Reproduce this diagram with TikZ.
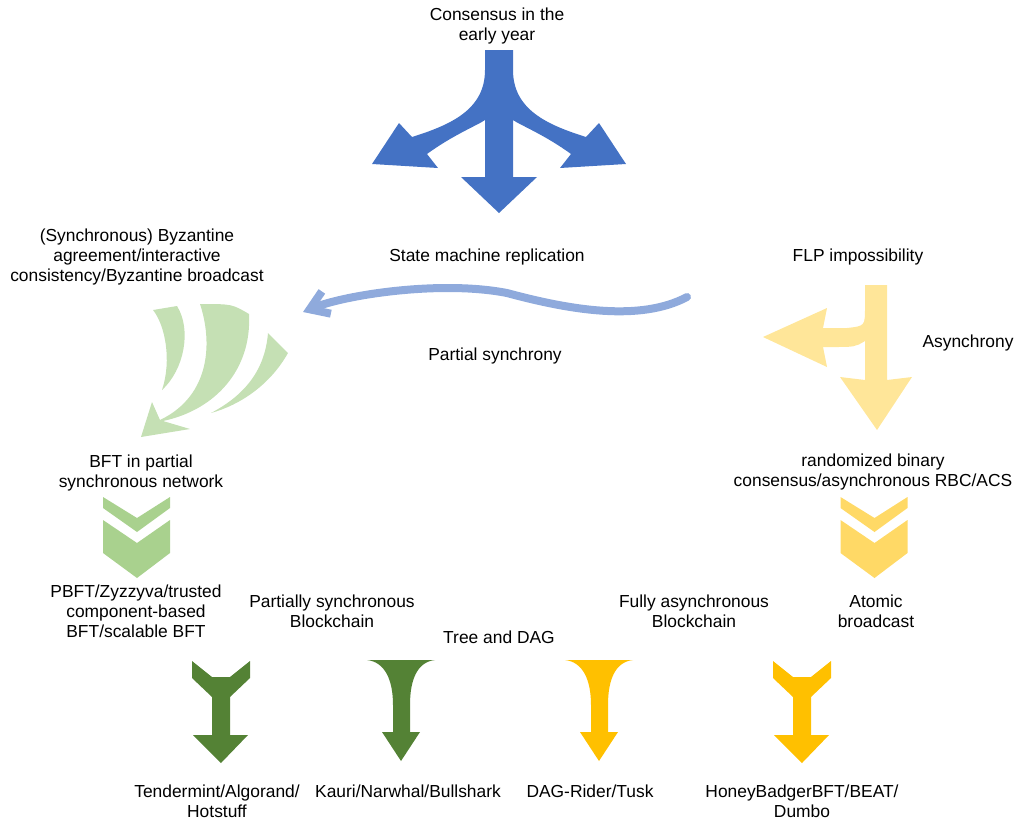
\documentclass[tikz,border=0pt]{standalone}
\usepackage{color}
\usepackage{tikz}
\usepackage{fontspec}
\setmainfont{Liberation Sans}
\usetikzlibrary{arrows.meta, positioning}

\definecolor{blueA}{HTML}{4472C4}
\definecolor{blueB}{HTML}{8FAADC}
\definecolor{greenA}{HTML}{C5E0B4}
\definecolor{greenB}{HTML}{A9D18E}
\definecolor{greenC}{HTML}{548235}
\definecolor{yellowA}{HTML}{FFE699}
\definecolor{yellowB}{HTML}{FFD966}
\definecolor{goldA}{HTML}{FFC000}

\begin{document}
\begin{tikzpicture}[x=1pt, y=-1pt, >=stealth]
	\tikzstyle{caption} = [align=center, inner sep=0pt, font=\fontsize{17.4}{20}\selectfont]

	\useasboundingbox (0,0) rectangle (1020,823);

	% texts
	\node[caption] (early) at (497,26) {Consensus in the\\early year};
	\node[caption] (smr) at (487,257) {State machine replication};
	\node[caption] (byz) at (137,257) {(Synchronous) Byzantine\\agreement/interactive\\consistency/Byzantine broadcast};
	\node[caption] (flp) at (858,257) {FLP impossibility};
	\node[caption] (psync) at (495,356) {Partial synchrony};
	\node[caption] (async) at (968,343) {Asynchrony};
	\node[caption] (bftpsn) at (141,473) {BFT in partial\\synchronous network};
	\node[caption] (rbc) at (873,472) {randomized binary\\consensus/asynchronous RBC/ACS};
	\node[caption] (pbft) at (136,611) {PBFT/Zyzzyva/trusted\\component-based\\BFT/scalable BFT};
	\node[caption] (psb) at (332,611) {Partially synchronous\\Blockchain};
	\node[caption] (tree) at (499,637) {Tree and DAG};
	\node[caption] (fab) at (694,611) {Fully asynchronous\\Blockchain};
	\node[caption] (atomic) at (876,611) {Atomic\\broadcast};
	\node[caption] (tah) at (217,801) {Tendermint/Algorand/\\Hotstuff};
	\node[caption] (knb) at (408,791) {Kauri/Narwhal/Bullshark};
	\node[caption] (drt) at (590,791) {DAG-Rider/Tusk};
	\node[caption] (hbd) at (802,801) {HoneyBadgerBFT/BEAT/\\Dumbo};

	% three-way arrow
	\fill[blueA] (485,50) -- (513,50) -- (513,70)
		.. controls (513,110) and (548,125) .. (586,137)
		-- (599,123) -- (626,164) -- (560,168) -- (571,154)
		.. controls (545,135) and (520,125) .. (513,120)
		-- (513,177) -- (537,177) -- (499,213) -- (461,177) -- (485,177) -- (485,120)
		.. controls (478,125) and (453,135) .. (427,154)
		-- (438,168) -- (372,164) -- (399,123) -- (412,137)
		.. controls (450,125) and (485,110) .. (485,70) -- cycle;

	% partial synchrony
	\coordinate (ps-a) at (687,297);
	\coordinate (ps-b) at (507,293);
	\coordinate (ps-c) at (303,312);
	\draw[blueB, line width=8, line cap=round, line join=round,
		-{Straight Barb[length=18pt, width=24pt]}]
		(ps-a) .. controls (640,322) and (570,310) .. (ps-b)
		.. controls (440,280) and (345,295) .. (ps-c);

	% striped arrow
	\begin{scope}[greenA]
		\fill (153,310) -- (177,306) .. controls (192,330) and (184,370) .. (162,390)
			.. controls (172,360) and (165,325) .. (153,310) -- cycle;
		\fill (200,304) .. controls (212,340) and (212,395) .. (160,420)
			-- (152,402) -- (141,437) -- (190,429) -- (163,421)
			.. controls (215,410) and (252,370) .. (249,314)
			.. controls (232,304) .. (200,304) -- cycle;
		\fill (268,333) .. controls (265,370) and (245,395) .. (211,413)
			.. controls (240,405) and (270,385) .. (288,353) -- cycle;
	\end{scope}

	% FLP arrow
	\fill[yellowA] (865,285) -- (887,285) -- (887,380) -- (912,377) -- (877,430)
		-- (840,377) -- (865,380) -- (865,341)
		.. controls (855,347) .. (832,347) -- (823,347) -- (827,367) -- (763,337)
		-- (827,308) -- (823,328) -- (847,328)
		.. controls (865,326) .. (865,307) -- cycle;

	% chevrons
	\begin{scope}
		\fill[greenB] (103,497) -- (137,518) -- (170,497) -- (170,508) -- (137,532) -- (103,508) -- cycle;
		\fill[greenB] (103,520) -- (137,543) -- (170,520) -- (170,553) -- (137,578) -- (103,553) -- cycle;
	\end{scope}

	\begin{scope}[shift={(737.5,0)}]
		\fill[yellowB] (103,497) -- (137,518) -- (170,497) -- (170,508) -- (137,532) -- (103,508) -- cycle;
		\fill[yellowB] (103,520) -- (137,543) -- (170,520) -- (170,553) -- (137,578) -- (103,553) -- cycle;
	\end{scope}

	% bottom arrows
	\begin{scope}
		\fill[greenC] (192,661) -- (212,677) -- (230,677) -- (250,661) -- (250,678) -- (230,697)
			-- (230,735) -- (248,735) -- (221,763) -- (193,735) -- (212,735) -- (212,697)
			-- (192,678) -- cycle;
	\end{scope}

	\begin{scope}[shift={(581,0)}]
		\fill[goldA] (192,661) -- (212,677) -- (230,677) -- (250,661) -- (250,678) -- (230,697)
			-- (230,735) -- (248,735) -- (221,763) -- (193,735) -- (212,735) -- (212,697)
			-- (192,678) -- cycle;
	\end{scope}

	\begin{scope}
		\fill[greenC] (367,660) -- (435,660) .. controls (417,662) and (410,680) .. (410,705)
			-- (410,732) -- (420,732) -- (401,761) -- (382,732) -- (393,732) -- (393,705)
			.. controls (393,680) and (385,662) .. (367,660) -- cycle;
	\end{scope}

	\begin{scope}[shift={(198,0)}]
		\fill[goldA] (367,660) -- (435,660) .. controls (417,662) and (410,680) .. (410,705)
			-- (410,732) -- (420,732) -- (401,761) -- (382,732) -- (393,732) -- (393,705)
			.. controls (393,680) and (385,662) .. (367,660) -- cycle;
	\end{scope}
\end{tikzpicture}
\end{document}
